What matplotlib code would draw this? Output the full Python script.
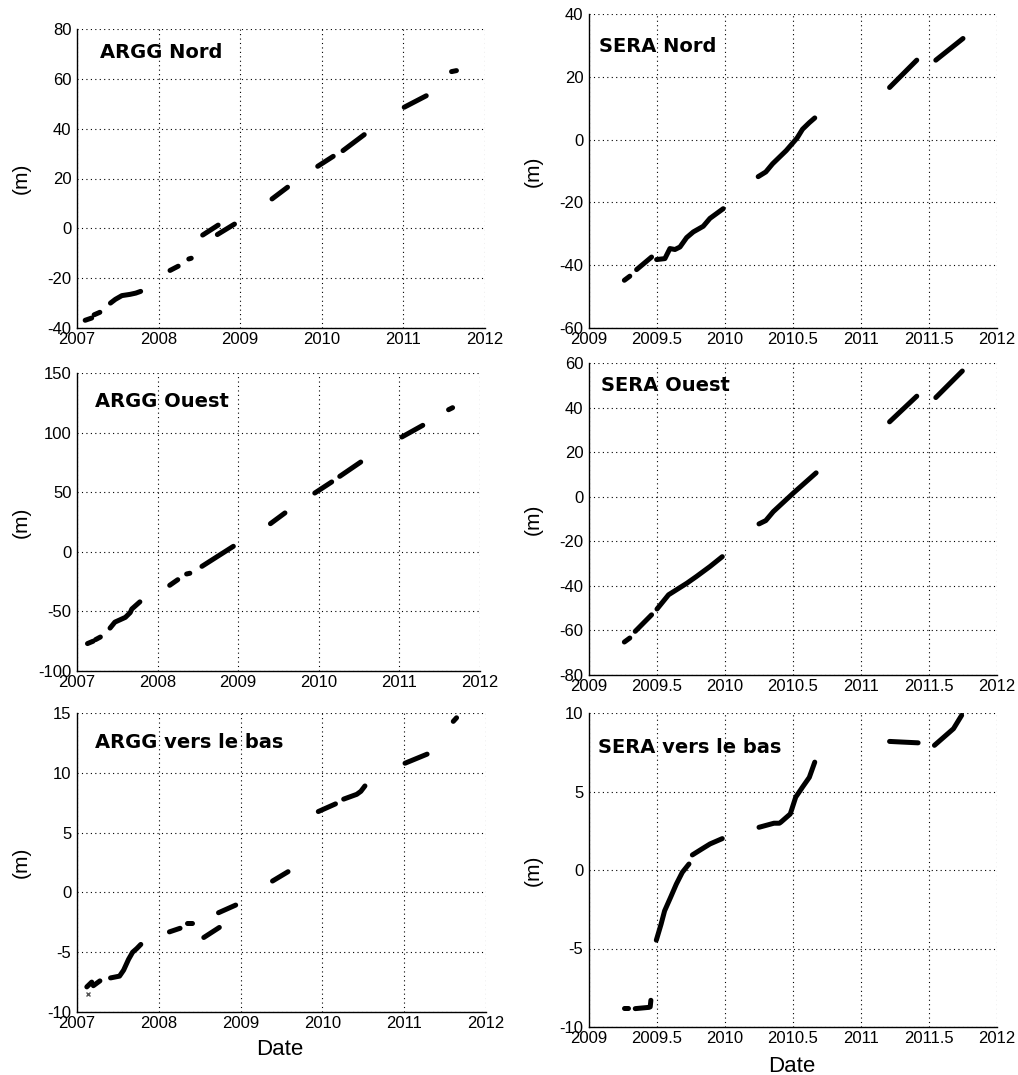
import matplotlib
matplotlib.use("Agg")
import matplotlib.pyplot as plt

# ---------------- data (decimal years, metres) ----------------
argg_nord_x = [[2007.10, 2007.18], [2007.21, 2007.28],
               [2007.41, 2007.47, 2007.55, 2007.65, 2007.72, 2007.78],
               [2008.14, 2008.24], [2008.37, 2008.40], [2008.54, 2008.73],
               [2008.72, 2008.93], [2009.39, 2009.58], [2009.95, 2010.14],
               [2010.26, 2010.52], [2011.01, 2011.28], [2011.59, 2011.65]]
argg_nord_y = [[-36.9, -36.0], [-34.7, -33.7],
               [-30.0, -28.5, -27.0, -26.5, -26.0, -25.3],
               [-16.9, -15.2], [-12.3, -12.0], [-2.7, 1.3],
               [-2.5, 1.7], [11.8, 16.5], [24.9, 28.9],
               [31.2, 37.6], [48.6, 53.2], [62.9, 63.3]]

argg_ouest_x = [[2007.13, 2007.20], [2007.23, 2007.29],
                [2007.41, 2007.47, 2007.60, 2007.66, 2007.68, 2007.78],
                [2008.15, 2008.25], [2008.36, 2008.40], [2008.55, 2008.94],
                [2009.40, 2009.58], [2009.95, 2010.16], [2010.26, 2010.52],
                [2011.03, 2011.29], [2011.61, 2011.66]]
argg_ouest_y = [[-77.0, -75.0], [-73.7, -71.5],
                [-64.0, -59.0, -55.0, -51.0, -48.0, -42.0],
                [-28.1, -23.4], [-18.6, -18.0], [-12.2, 4.6],
                [23.6, 32.6], [49.3, 58.6], [63.3, 75.3],
                [96.3, 106.1], [119.2, 120.9]]

argg_bas_x = [[2007.12, 2007.18], [2007.20, 2007.28],
              [2007.41, 2007.52, 2007.57, 2007.63, 2007.68, 2007.73, 2007.78],
              [2008.13, 2008.26], [2008.35, 2008.40], [2008.55, 2008.74],
              [2008.73, 2008.94], [2009.39, 2009.58], [2009.95, 2010.16],
              [2010.26, 2010.42, 2010.47, 2010.52], [2011.01, 2011.28],
              [2011.60, 2011.64]]
argg_bas_y = [[-7.9, -7.5], [-7.8, -7.4],
              [-7.15, -7.0, -6.5, -5.6, -5.0, -4.7, -4.35],
              [-3.3, -3.0], [-2.6, -2.6], [-3.77, -2.93],
              [-1.7, -1.06], [0.95, 1.73], [6.76, 7.4],
              [7.8, 8.2, 8.45, 8.9], [10.8, 11.56],
              [14.3, 14.6]]
argg_bas_outlier_x = [2007.13]
argg_bas_outlier_y = [-8.46]

sera_nord_x = [[2009.26, 2009.30], [2009.35, 2009.46],
               [2009.497, 2009.558, 2009.595, 2009.632, 2009.669, 2009.718,
                2009.767, 2009.840, 2009.889, 2009.987],
               [2010.244, 2010.30, 2010.35, 2010.45, 2010.50, 2010.53,
                2010.57, 2010.62, 2010.66],
               [2011.21, 2011.41], [2011.55, 2011.75]]
sera_nord_y = [[-44.8, -43.5], [-41.4, -37.4],
               [-38.2, -37.9, -34.7, -35.0, -34.2, -31.2,
                -29.4, -27.6, -25.1, -22.0],
               [-11.8, -10.3, -7.7, -3.5, -1.0, 0.5, 3.3, 5.4, 6.9],
               [16.6, 25.3], [25.3, 32.2]]

sera_ouest_x = [[2009.26, 2009.30], [2009.34, 2009.46],
                [2009.50, 2009.585, 2009.72, 2009.79, 2009.89, 2009.98],
                [2010.25, 2010.30, 2010.355, 2010.50, 2010.67],
                [2011.21, 2011.41], [2011.55, 2011.745]]
sera_ouest_y = [[-65.2, -63.4], [-60.4, -53.0],
                [-50.4, -44.0, -38.8, -35.8, -31.3, -26.9],
                [-12.2, -10.7, -6.7, 1.5, 10.7],
                [33.6, 45.1], [44.5, 56.4]]

sera_bas_x = [[2009.26, 2009.29], [2009.34, 2009.44, 2009.45, 2009.455],
              [2009.495, 2009.53, 2009.556, 2009.60, 2009.642, 2009.686, 2009.735],
              [2009.76, 2009.83, 2009.89, 2009.98],
              [2010.25, 2010.36, 2010.40],
              [2010.41, 2010.48, 2010.52, 2010.57, 2010.62, 2010.66],
              [2011.21, 2011.30, 2011.42],
              [2011.54, 2011.61, 2011.68, 2011.74]]
sera_bas_y = [[-8.8, -8.8], [-8.83, -8.75, -8.72, -8.3],
              [-4.47, -3.45, -2.6, -1.74, -0.9, -0.15, 0.38],
              [0.96, 1.34, 1.66, 2.0],
              [2.72, 2.98, 2.98],
              [3.04, 3.57, 4.64, 5.28, 5.9, 6.87],
              [8.19, 8.15, 8.1],
              [7.94, 8.47, 9.0, 9.85]]

titles = ["ARGG Nord", "SERA Nord", "ARGG Ouest", "SERA Ouest",
          "ARGG vers le bas", "SERA vers le bas"]
argg_xticks = [2007, 2008, 2009, 2010, 2011, 2012]
argg_xticklabels = ["2007", "2008", "2009", "2010", "2011", "2012"]
sera_xticks = [2009, 2009.5, 2010, 2010.5, 2011, 2011.5, 2012]
sera_xticklabels = ["2009", "2009.5", "2010", "2010.5", "2011", "2011.5", "2012"]
yticks_list = [[-40, -20, 0, 20, 40, 60, 80], [-60, -40, -20, 0, 20, 40],
               [-100, -50, 0, 50, 100, 150], [-80, -60, -40, -20, 0, 20, 40, 60],
               [-10, -5, 0, 5, 10, 15], [-10, -5, 0, 5, 10]]

# ---------------- layout ----------------
W, H = 1018, 1075
fig = plt.figure(figsize=(W / 100, H / 100), dpi=100)

# pixel boxes: x0, x1, ytop, ybottom
boxes = [(77, 485, 29, 328), (589, 997, 14, 328),
         (77, 480, 373, 671), (589, 997, 363, 675),
         (77, 486, 713, 1012), (589, 997, 713, 1027)]
title_pos = [(0.056, 0.923), (0.025, 0.895), (0.045, 0.906),
             (0.029, 0.929), (0.044, 0.90), (0.022, 0.889)]
datasets = [(argg_nord_x, argg_nord_y), (sera_nord_x, sera_nord_y),
            (argg_ouest_x, argg_ouest_y), (sera_ouest_x, sera_ouest_y),
            (argg_bas_x, argg_bas_y), (sera_bas_x, sera_bas_y)]

tick_font = "Liberation Sans"

for i, (box, (xs, ys)) in enumerate(zip(boxes, datasets)):
    x0, x1, yt, yb = box
    ax = fig.add_axes([x0 / W, 1 - yb / H, (x1 - x0) / W, (yb - yt) / H])
    for sx, sy in zip(xs, ys):
        ax.plot(sx, sy, color="black", lw=3.6, solid_capstyle="round")
    if i == 4:
        ax.plot(argg_bas_outlier_x, argg_bas_outlier_y, "x", color="#555555",
                ms=3, mew=1)
    yt_ = yticks_list[i]
    if i % 2 == 0:
        ax.set_xlim(2007, 2012)
        ax.set_xticks(argg_xticks)
        ax.set_xticklabels(argg_xticklabels)
    else:
        ax.set_xlim(2009, 2012)
        ax.set_xticks(sera_xticks)
        ax.set_xticklabels(sera_xticklabels)
    ax.set_ylim(yt_[0], yt_[-1])
    ax.set_yticks(yt_)
    ax.set_yticklabels([str(v) for v in yt_])
    for lab in ax.get_xticklabels() + ax.get_yticklabels():
        lab.set_fontfamily(tick_font)
        lab.set_fontsize(12)
    ax.tick_params(length=0, pad=4)
    ax.tick_params(axis="x", pad=3)
    ax.grid(True, linestyle=(0, (1, 3)), color="black", lw=0.8)
    ax.set_axisbelow(True)
    ax.spines["top"].set_visible(False)
    ax.spines["right"].set_visible(False)
    ax.spines["left"].set_linewidth(1.0)
    ax.spines["bottom"].set_linewidth(1.0)
    ax.set_ylabel("(m)", fontfamily=tick_font, fontsize=15)
    ax.yaxis.set_label_coords(-0.114, 0.5)
    if i >= 4:
        ax.set_xlabel("Date", fontfamily=tick_font, fontsize=16)
        ax.xaxis.set_label_coords(0.496, -0.125)
        ax.xaxis.label.set_va("center")
    tx, ty = title_pos[i]
    ax.text(tx, ty, titles[i], transform=ax.transAxes, fontsize=14,
            fontweight="bold", fontfamily="DejaVu Sans", va="center", ha="left")

fig.savefig("out.png", dpi=100)
